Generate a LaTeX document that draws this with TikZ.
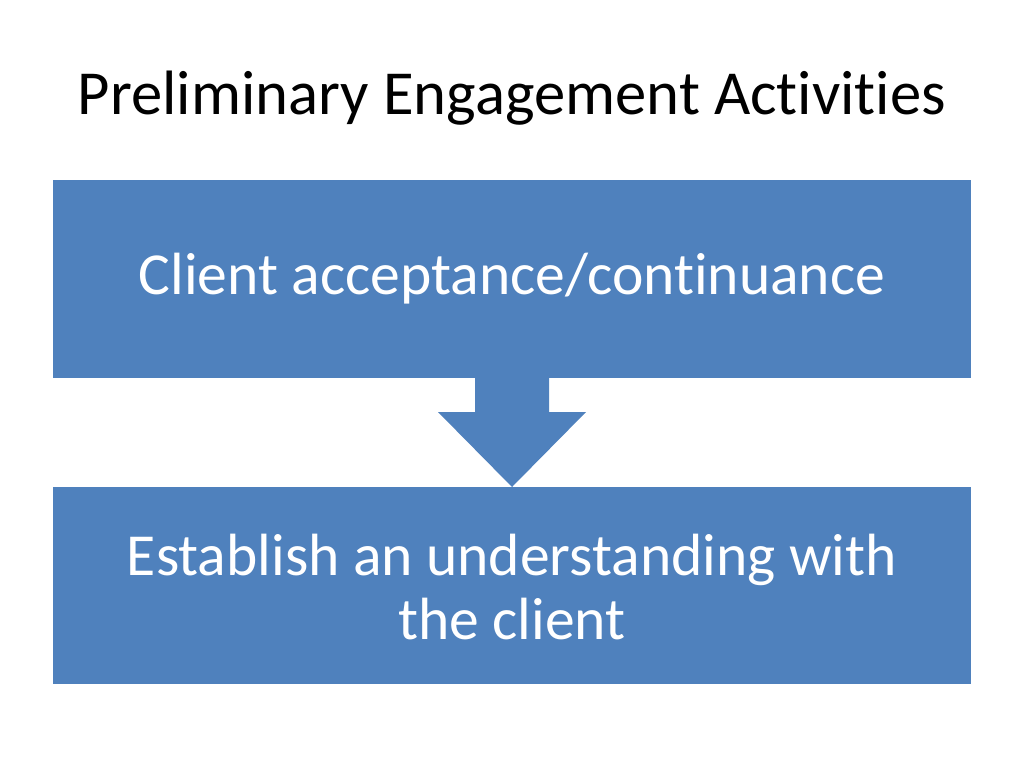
\documentclass[tikz,border=0pt]{standalone}
\usepackage{fontspec}
\setmainfont[Ligatures=NoCommon]{Carlito}
\definecolor{boxblue}{HTML}{4F81BD}
\begin{document}
\begin{tikzpicture}[x=0.75pt,y=-0.75pt,
  box/.style={fill=boxblue,draw=none},
  boxtext/.style={text=white,font=\fontsize{44.7}{47.5}\selectfont,align=center}]
\useasboundingbox[fill=white] (0,0) rectangle (1024,768);
\node[font=\fontsize{47}{56}\selectfont,anchor=center] (title) at (512,98) {Preliminary Engagement Activities};
\fill[box] (53,180) rectangle (971,378);
\fill[box] (53,487) rectangle (971,684);
\fill[box] (475,377) -- (549,377) -- (549,412) -- (586,412) -- (512,487) -- (438,412) -- (475,412) -- cycle;
\node[boxtext] (t1) at (512,279) {Client acceptance/continuance};
\node[boxtext] (t2) at (512,587) {Establish an understanding with\\the client};
\end{tikzpicture}
\end{document}
